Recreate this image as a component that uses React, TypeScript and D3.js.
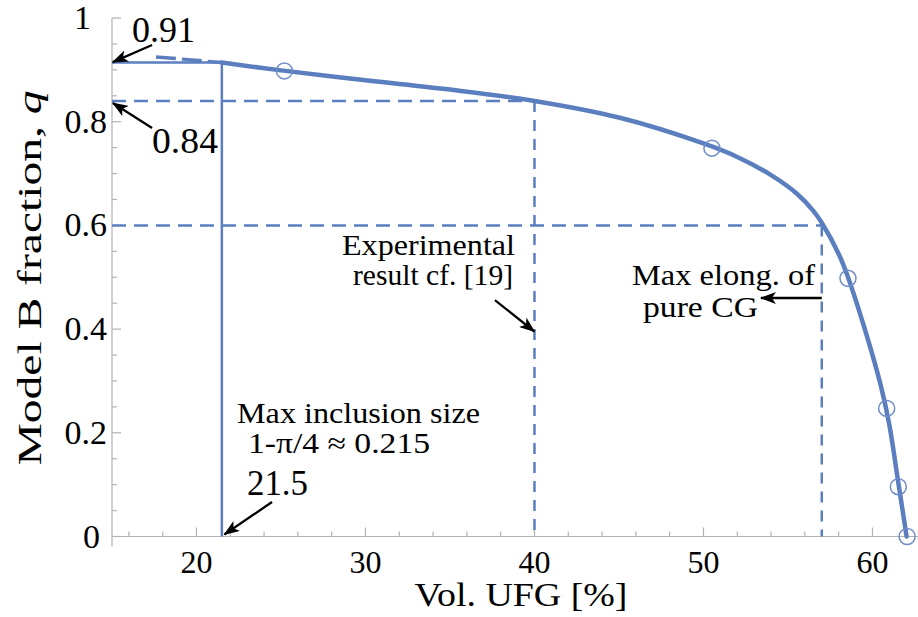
import React from "react";
import * as d3 from "d3";

// ---- data ----
const curveX = [21.5, 25, 30, 35, 40, 45, 50, 52, 54, 55.5, 56.5, 57, 58, 58.5, 59.5, 60.5, 61, 61.5, 62.02];
const curveQ = [0.914, 0.899, 0.88, 0.862, 0.84, 0.808, 0.758, 0.732, 0.697, 0.662, 0.628, 0.605, 0.545, 0.505, 0.405, 0.29, 0.215, 0.11, 0.0];
const simX = [25.2, 50.5, 58.55, 60.84, 61.53, 62.05];
const simQ = [0.898, 0.749, 0.498, 0.247, 0.096, 0.0];
const extX = [17.6, 21.5];
const extQ = [0.925, 0.914];

const xTicks = [20, 30, 40, 50, 60];
const xTickLabels = ["20", "30", "40", "50", "60"];
const xMinor = [16, 18, 22, 24, 26, 28, 32, 34, 36, 38, 42, 44, 46, 48, 52, 54, 56, 58, 62];
const yTicks = [0, 0.2, 0.4, 0.6, 0.8, 1];
const yTickLabels = ["0", "0.2", "0.4", "0.6", "0.8", "1"];
const yMinor = [0.05, 0.1, 0.15, 0.25, 0.3, 0.35, 0.45, 0.5, 0.55, 0.65, 0.7, 0.75, 0.85, 0.9, 0.95];

const inclusionX = 21.5;
const inclusionQ = 0.914;
const experimentX = 40;
const experimentQ = 0.84;
const elongX = 57;
const elongQ = 0.6;

// annotation arrows: [fromX, fromQ, toX, toQ]
const arrows: [number, number, number, number][] = [
  [17.37, 0.948, 15.05, 0.915],
  [17.37, 0.788, 15.05, 0.836],
  [24.47, 0.0665, 21.65, 0.004],
  [37.66, 0.456, 40.0, 0.395],
  [57.0, 0.46, 53.4, 0.46],
];

const BLUE = "#5b7ebf";
const FONT = "Liberation Serif";

function T(props: any) {
  const { style, children, ...rest } = props;
  return (
    <text {...rest} fill="#000" style={{ fontFamily: FONT, ...(style || {}) }}>
      {children}
    </text>
  );
}

export default function App() {
  const W = 918, H = 617;
  const x = d3.scaleLinear().domain([15, 62.7]).range([112, 918.1]);
  const y = d3.scaleLinear().domain([0, 1]).range([536.5, 18]);

  const line = d3
    .line<number>()
    .x((_, i) => x(curveX[i]))
    .y((_, i) => y(curveQ[i]))
    .curve(d3.curveCatmullRom.alpha(0.5));
  const curvePath = line(curveX) || "";

  const extPath = d3.line<number>().x((_, i) => x(extX[i])).y((_, i) => y(extQ[i]))(extX) || "";

  const x0 = x(15);
  const yBase = y(0);

  return (
    <svg width={W} height={H} style={{ position: "absolute", left: 0, top: 0, background: "#fff" }}>
      <defs>
        <marker id="ah" viewBox="0 0 16 12" refX="15" refY="6" markerWidth="16" markerHeight="12" markerUnits="userSpaceOnUse" orient="auto">
          <path d="M0,0 L16,6 L0,12 L4,6 Z" fill="#000" />
        </marker>
      </defs>

      {/* axes */}
      <g stroke="#b3b3b3" strokeWidth={1.2}>
        <line x1={x0} x2={x0} y1={y(1)} y2={yBase + 10} />
        <line x1={x0} x2={W} y1={yBase} y2={yBase} />
        {xTicks.map((t) => (
          <line key={"xt" + t} x1={x(t)} x2={x(t)} y1={yBase} y2={yBase - 9} />
        ))}
        {xMinor.map((t) => (
          <line key={"xm" + t} x1={x(t)} x2={x(t)} y1={yBase} y2={yBase - 5} />
        ))}
        {yTicks.map((t) => (
          <line key={"yt" + t} x1={x0} x2={x0 + 9} y1={y(t)} y2={y(t)} />
        ))}
        {yMinor.map((t) => (
          <line key={"ym" + t} x1={x0} x2={x0 + 5} y1={y(t)} y2={y(t)} />
        ))}
      </g>

      {/* tick labels */}
      {xTicks.map((t, i) => (
        <T key={"xl" + t} x={x(t)} y={yBase + 36} fontSize={32} textAnchor="middle">{xTickLabels[i]}</T>
      ))}
      {yTicks.map((t, i) => (
        <T key={"yl" + t} x={t === 1 ? 91 : t === 0 ? 100 : 107} y={y(t) + 11} fontSize={34} textAnchor="end">{yTickLabels[i]}</T>
      ))}

      {/* axis titles */}
      <T x={521} y={606} fontSize={34} textAnchor="middle" textLength={213} lengthAdjust="spacingAndGlyphs">Vol. UFG [%]</T>
      <T transform="translate(41,278) rotate(-90)" fontSize={34} textAnchor="middle" textLength={375} lengthAdjust="spacingAndGlyphs">
        Model B fraction, <tspan fontStyle="italic">q</tspan>
      </T>

      {/* reference lines */}
      <g stroke={BLUE} fill="none">
        <line x1={x0} x2={x(inclusionX)} y1={y(inclusionQ)} y2={y(inclusionQ)} strokeWidth={2.5} />
        <line x1={x(inclusionX)} x2={x(inclusionX)} y1={y(inclusionQ)} y2={yBase} strokeWidth={2.5} />
        <path d={extPath} strokeWidth={3.5} strokeDasharray="20,6" />
        <g strokeWidth={2.5} strokeDasharray="14,8">
          <line x1={x0} x2={x(experimentX)} y1={y(experimentQ)} y2={y(experimentQ)} />
          <line x1={x(experimentX)} x2={x(experimentX)} y1={y(experimentQ)} y2={yBase} strokeDasharray="11,8" />
          <line x1={x0} x2={x(elongX)} y1={y(elongQ)} y2={y(elongQ)} />
          <line x1={x(elongX)} x2={x(elongX)} y1={y(elongQ)} y2={yBase} strokeDasharray="11,8" />
        </g>
      </g>

      {/* main curve */}
      <path d={curvePath} stroke={BLUE} strokeWidth={4.5} fill="none" strokeLinecap="round" />

      {/* simulation circles */}
      <g stroke="#6f8cc8" strokeWidth={1.5} fill="none">
        {simX.map((v, i) => (
          <circle key={"c" + i} cx={x(v)} cy={y(simQ[i])} r={8} />
        ))}
      </g>

      {/* arrows */}
      <g stroke="#000" strokeWidth={2.3}>
        {arrows.map((a, i) => (
          <line key={"a" + i} x1={x(a[0])} y1={y(a[1])} x2={x(a[2])} y2={y(a[3])} markerEnd="url(#ah)" />
        ))}
      </g>

      {/* annotation text */}
      <T x={132} y={42} fontSize={35} textLength={63} lengthAdjust="spacingAndGlyphs">0.91</T>
      <T x={152} y={153} fontSize={35} textLength={66} lengthAdjust="spacingAndGlyphs">0.84</T>
      <T x={247} y={495} fontSize={35} textLength={61} lengthAdjust="spacingAndGlyphs">21.5</T>
      <T x={237} y={423} fontSize={29} textLength={243} lengthAdjust="spacingAndGlyphs">Max inclusion size</T>
      <T x={248} y={453} fontSize={29} textLength={182} lengthAdjust="spacingAndGlyphs">1-π/4 ≈ 0.215</T>
      <T x={342} y={255} fontSize={29} textLength={173} lengthAdjust="spacingAndGlyphs">Experimental</T>
      <T x={353} y={285} fontSize={29} textLength={160} lengthAdjust="spacingAndGlyphs">result cf. [19]</T>
      <T x={632} y={285} fontSize={29} textLength={183} lengthAdjust="spacingAndGlyphs">Max elong. of</T>
      <T x={643} y={317} fontSize={29} textLength={115} lengthAdjust="spacingAndGlyphs">pure CG</T>
    </svg>
  );
}
